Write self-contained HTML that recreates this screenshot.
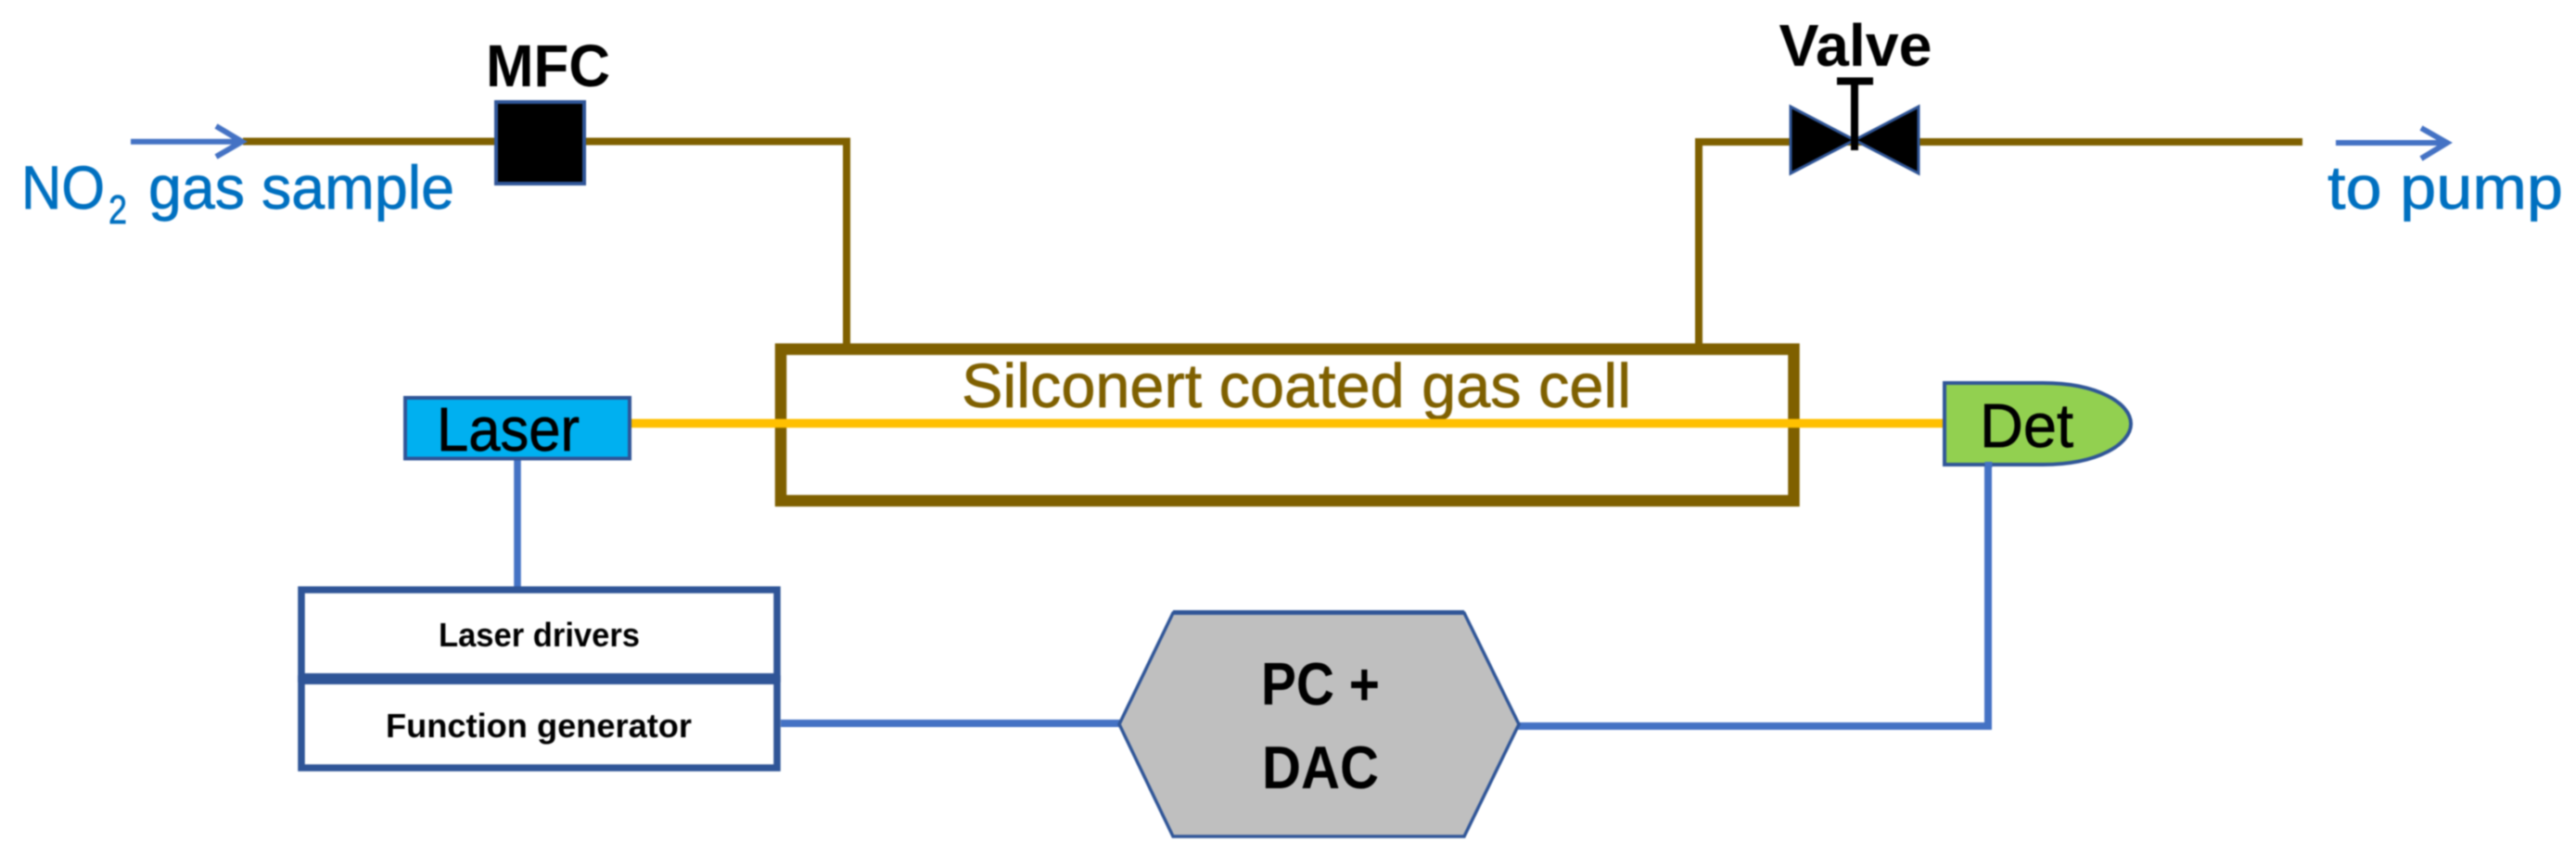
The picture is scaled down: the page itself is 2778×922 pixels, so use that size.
<!DOCTYPE html>
<html>
<head>
<meta charset="utf-8">
<style>
html,body{margin:0;padding:0;background:#fff;}
svg{display:block;filter:blur(0.7px);}
text{font-family:"Liberation Sans",sans-serif;}
.r{stroke-width:0.7px;}
</style>
</head>
<body>
<svg xmlns="http://www.w3.org/2000/svg" width="2778" height="922" viewBox="0 0 2778 922">
<rect width="2778" height="922" fill="#fff"/>

<!-- brown pipes -->
<path d="M262 152.500H913V372" fill="none" stroke="#7F6000" stroke-width="8"/>
<path d="M1832 372V153H2483" fill="none" stroke="#7F6000" stroke-width="8"/>

<!-- gas cell -->
<rect x="842" y="376.5" width="1092.5" height="163.5" fill="none" stroke="#7F6000" stroke-width="12.5"/>
<text class="r" stroke="#7F6000" x="1037" y="439" font-size="67" fill="#7F6000" textLength="722" lengthAdjust="spacingAndGlyphs">Silconert coated gas cell</text>

<!-- laser beam -->
<path d="M681 456.5H2095" stroke="#FFC000" stroke-width="9.500" fill="none"/>

<!-- blue arrows -->
<path d="M141 152.7H261M233 136L261 152.7L233 169" fill="none" stroke="#4472C4" stroke-width="6"/>
<path d="M2519 154H2639M2611 138L2639 154L2611 171" fill="none" stroke="#4472C4" stroke-width="6"/>

<!-- labels top -->
<text class="r" stroke="#0070C0" x="23" y="225" font-size="66" fill="#0070C0" textLength="90" lengthAdjust="spacingAndGlyphs">NO</text>
<text class="r" stroke="#0070C0" x="117" y="241" font-size="44" fill="#0070C0" textLength="20" lengthAdjust="spacingAndGlyphs">2</text>
<text class="r" stroke="#0070C0" x="160" y="225" font-size="66" fill="#0070C0" textLength="330" lengthAdjust="spacingAndGlyphs">gas sample</text>
<text class="r" stroke="#0070C0" x="2510" y="225" font-size="66" fill="#0070C0" textLength="254" lengthAdjust="spacingAndGlyphs">to pump</text>

<!-- MFC -->
<rect x="535" y="110" width="95" height="88" fill="#000" stroke="#2F5597" stroke-width="4"/>
<text x="524" y="93" font-size="64" font-weight="bold" fill="#000" textLength="134" lengthAdjust="spacingAndGlyphs">MFC</text>

<!-- Valve -->
<path d="M1931 115L2000 151L1931 187Z" fill="#000" stroke="#2F5597" stroke-width="3"/>
<path d="M2069 115L2000 151L2069 187Z" fill="#000" stroke="#2F5597" stroke-width="3"/>
<path d="M2000 85V162" stroke="#000" stroke-width="8" fill="none"/>
<path d="M1981 87.500H2020" stroke="#000" stroke-width="8" fill="none"/>
<text x="1918.5" y="71" font-size="64" font-weight="bold" fill="#000" textLength="165" lengthAdjust="spacingAndGlyphs">Valve</text>

<!-- Laser -->
<path d="M558 496V634" stroke="#4472C4" stroke-width="7.500" fill="none"/>
<rect x="437" y="429" width="242" height="65.5" fill="#00B0F0" stroke="#2F5597" stroke-width="4"/>
<text class="r" stroke="#000" x="471" y="486" font-size="67" fill="#000" textLength="154" lengthAdjust="spacingAndGlyphs">Laser</text>

<!-- Drivers -->
<rect x="325" y="636" width="513" height="96" fill="#fff" stroke="#2F5597" stroke-width="7.5"/>
<rect x="325" y="732" width="513" height="96" fill="#fff" stroke="#2F5597" stroke-width="7.5"/>
<rect x="325" y="726" width="513" height="12" fill="#2F5597"/>
<text x="473" y="697" font-size="36" font-weight="bold" fill="#000" textLength="217" lengthAdjust="spacingAndGlyphs">Laser drivers</text>
<text x="416" y="795" font-size="36" font-weight="bold" fill="#000" textLength="330" lengthAdjust="spacingAndGlyphs">Function generator</text>

<!-- Signal wires -->
<path d="M842 780H1210" stroke="#4472C4" stroke-width="8" fill="none"/>
<path d="M1636 783H2144V498" stroke="#4472C4" stroke-width="8" fill="none"/>

<!-- Hex -->
<path d="M1265 661H1579L1638 781L1579 902H1265L1207 781Z" fill="#BFBFBF" stroke="#2F5597" stroke-width="3.5"/>
<path d="M1265 660.5H1579" stroke="#2F5597" stroke-width="5" fill="none"/>
<text x="1360" y="760" font-size="65" font-weight="bold" fill="#000" textLength="128" lengthAdjust="spacingAndGlyphs">PC +</text>
<text x="1361" y="850" font-size="65" font-weight="bold" fill="#000" textLength="126" lengthAdjust="spacingAndGlyphs">DAC</text>

<!-- Det -->
<path d="M2097 413H2203C2262 413 2298 435 2298 457C2298 479 2262 501 2203 501H2097Z" fill="#92D050" stroke="#2F5597" stroke-width="4"/>
<path d="M2144.500 498V504" stroke="#4472C4" stroke-width="8" fill="none"/>
<text class="r" stroke="#000" x="2135" y="482" font-size="67" fill="#000" textLength="101" lengthAdjust="spacingAndGlyphs">Det</text>
</svg>
</body>
</html>
